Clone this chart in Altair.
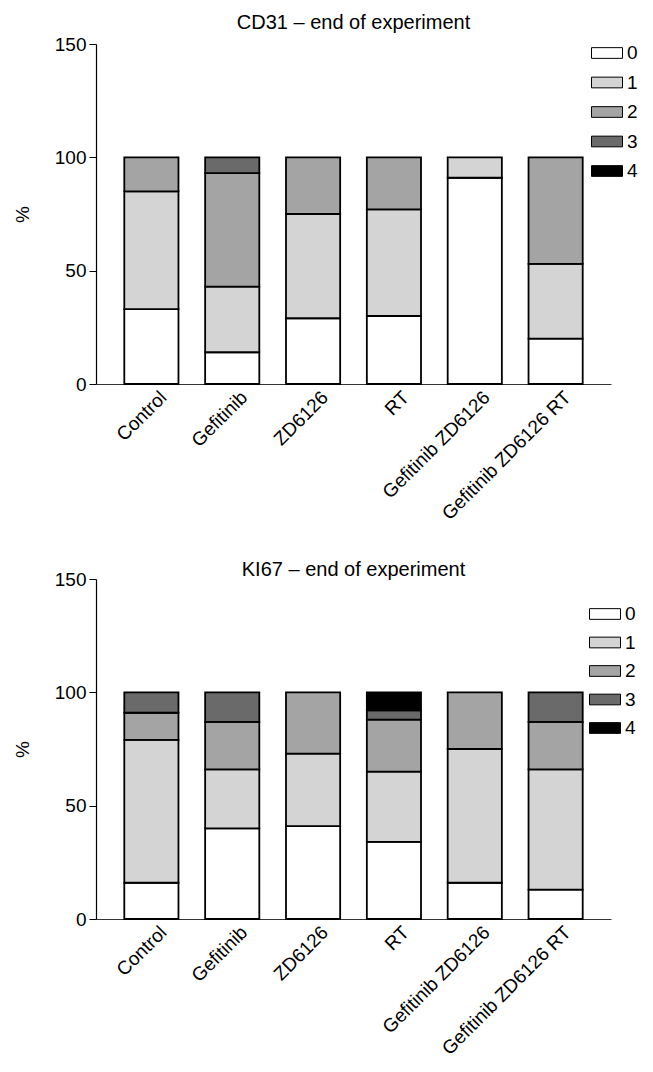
import altair as alt
import pandas as pd

FONT = "Liberation Sans"

groups = ["Control", "Gefitinib", "ZD6126", "RT", "Gefitinib ZD6126", "Gefitinib ZD6126 RT"]
scores = ["0", "1", "2", "3", "4"]
score_colors = ["#ffffff", "#d4d4d4", "#a4a4a4", "#6a6a6a", "#000000"]

# CD31 – percentage of each score per group
cd31_0 = [33, 14, 29, 30, 91, 20]
cd31_1 = [52, 29, 46, 47, 9, 33]
cd31_2 = [15, 50, 25, 23, 0, 47]
cd31_3 = [0, 7, 0, 0, 0, 0]
cd31_4 = [0, 0, 0, 0, 0, 0]

# KI67 – percentage of each score per group
ki67_0 = [16, 40, 41, 34, 16, 13]
ki67_1 = [63, 26, 32, 31, 59, 53]
ki67_2 = [12, 21, 27, 23, 25, 21]
ki67_3 = [9, 13, 0, 4, 0, 13]
ki67_4 = [0, 0, 0, 8, 0, 0]

y_ticks = [0, 50, 100, 150]


def build_df(series):
    rows = []
    for s, vals in zip(scores, series):
        for g, v in zip(groups, vals):
            if v > 0:
                rows.append({"group": g, "score": s, "level": int(s), "pct": v})
    return pd.DataFrame(rows)


def panel(title, series, title_offset, legend_x, legend_y, row_pad):
    df = build_df(series)
    return (
        alt.Chart(
            df,
            title=alt.Title(
                title, font=FONT, fontSize=20, fontWeight="normal",
                color="black", offset=title_offset,
            ),
        )
        .mark_bar(stroke="black", strokeWidth=1.8)
        .encode(
            x=alt.X(
                "group:N", sort=groups,
                scale=alt.Scale(paddingInner=0.33, paddingOuter=0.35),
                axis=alt.Axis(
                    title=None, labelAngle=-45, labelAlign="right",
                    labelBaseline="middle", labelOffset=12, labelPadding=10,
                    ticks=False, domainColor="#333333", domainWidth=1.2,
                    labelFont=FONT, labelFontSize=19, labelColor="black",
                ),
            ),
            y=alt.Y(
                "pct:Q", stack="zero",
                scale=alt.Scale(domain=[0, 150]),
                axis=alt.Axis(
                    title="%", values=y_ticks, grid=False, tickSize=7,
                    tickColor="black", domainColor="black", domainWidth=1.2,
                    labelFont=FONT, labelFontSize=19, labelColor="black",
                    labelPadding=3, titleFont=FONT, titleFontSize=19,
                    titleFontWeight="normal", titleColor="black", titlePadding=22,
                ),
            ),
            color=alt.Color(
                "score:N",
                scale=alt.Scale(domain=scores, range=score_colors),
                legend=alt.Legend(
                    title=None, orient="none", legendX=legend_x, legendY=legend_y,
                    symbolType="M-1,-0.345L1,-0.345L1,0.345L-1,0.345Z",
                    symbolSize=961, symbolStrokeColor="black", symbolStrokeWidth=1,
                    labelFont=FONT, labelFontSize=19, labelColor="black",
                    labelOffset=4, rowPadding=row_pad,
                ),
            ),
            order=alt.Order("level:Q", sort="ascending"),
        )
        .properties(width=515, height=340)
    )


top = panel("CD31 \u2013 end of experiment", [cd31_0, cd31_1, cd31_2, cd31_3, cd31_4], 2, 495, -7, 3.5)
bottom = panel("KI67 \u2013 end of experiment", [ki67_0, ki67_1, ki67_2, ki67_3, ki67_4], -10, 493, 19, 2.5)

chart = (
    alt.vconcat(top, bottom, spacing=195, bounds="flush")
    .resolve_scale(color="independent")
    .resolve_legend(color="independent")
    .configure_view(strokeWidth=0)
)

chart.save("out.html", embed_options={"renderer": "svg", "actions": False})
